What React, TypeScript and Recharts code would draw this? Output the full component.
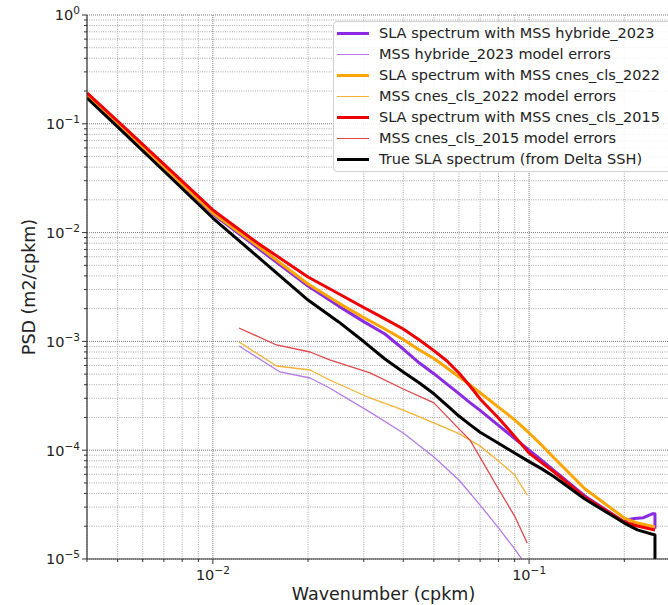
import React from "react";
import { LineChart, Line, XAxis, YAxis, CartesianGrid } from "recharts";

const FONT = "DejaVu Sans";

// wavenumber (cpkm) samples
const kSpectrum = [0.004, 0.005, 0.007, 0.01, 0.014, 0.02, 0.025, 0.03, 0.035, 0.04, 0.045, 0.05, 0.055, 0.06, 0.065, 0.07, 0.08, 0.09, 0.1, 0.11, 0.12, 0.15, 0.2, 0.22, 0.25];
const kHybride = [0.004, 0.005, 0.007, 0.01, 0.014, 0.02, 0.025, 0.03, 0.035, 0.04, 0.045, 0.05, 0.055, 0.06, 0.065, 0.07, 0.08, 0.09, 0.1, 0.11, 0.12, 0.15, 0.2, 0.205, 0.215, 0.23, 0.245, 0.25, 0.25];
const kTrue = [0.004, 0.005, 0.007, 0.01, 0.014, 0.02, 0.025, 0.03, 0.035, 0.04, 0.045, 0.05, 0.055, 0.06, 0.065, 0.07, 0.08, 0.09, 0.1, 0.11, 0.12, 0.15, 0.2, 0.22, 0.25, 0.25];
const kErr2015 = [0.0121, 0.0159, 0.0203, 0.0234, 0.0314, 0.04, 0.05, 0.06, 0.065, 0.07, 0.08, 0.09, 0.0986];
const kErr2022 = [0.0121, 0.0159, 0.0203, 0.0234, 0.0314, 0.04, 0.05, 0.06, 0.07, 0.08, 0.09, 0.0986];
const kErr2023 = [0.0121, 0.0163, 0.0203, 0.0234, 0.0314, 0.04, 0.05, 0.06, 0.07, 0.08, 0.09, 0.096];

// PSD (m2/cpkm)
const slaHybride2023 = [0.182, 0.1, 0.0393, 0.01483, 0.00706, 0.00323, 0.00211, 0.00152, 0.00117, 0.000851, 0.000632, 0.000505, 0.000405, 0.000331, 0.000274, 0.000232, 0.000169, 0.000128, 0.0001, 8.0e-5, 6.5e-5, 3.8e-5, 2.19e-5, 2.3e-5, 2.36e-5, 2.4e-5, 2.6e-5, 2.6e-5, 1.9e-5];
const errHybride2023 = [0.000908, 0.000524, 0.000461, 0.000373, 0.000224, 0.000144, 8.66e-5, 5.32e-5, 3.13e-5, 1.93e-5, 1.24e-5, 9.5e-6];
const slaCnes2022 = [0.184, 0.1016, 0.0401, 0.01514, 0.00738, 0.00337, 0.00225, 0.00166, 0.0013, 0.00104, 0.000834, 0.000697, 0.000569, 0.000474, 0.000399, 0.000337, 0.000249, 0.00019, 0.000144, 0.00011, 8.47e-5, 4.42e-5, 2.38e-5, 2.14e-5, 1.97e-5];
const errCnes2022 = [0.000987, 0.000594, 0.000546, 0.000442, 0.000302, 0.000234, 0.000178, 0.000142, 0.000109, 7.96e-5, 5.92e-5, 3.87e-5];
const slaCnes2015 = [0.192, 0.106, 0.0426, 0.01615, 0.00785, 0.00391, 0.00274, 0.00205, 0.00161, 0.0013, 0.00103, 0.000822, 0.000661, 0.000513, 0.000389, 0.000296, 0.000198, 0.000134, 9.4e-5, 7.6e-5, 6.3e-5, 3.7e-5, 2.19e-5, 2.01e-5, 1.85e-5];
const errCnes2015 = [0.001327, 0.000927, 0.000799, 0.000675, 0.000513, 0.000365, 0.000272, 0.000157, 0.000124, 8.59e-5, 4.4e-5, 2.48e-5, 1.4e-5];
const slaTrue = [0.1726, 0.0936, 0.0368, 0.01361, 0.00585, 0.0024, 0.00151, 0.000997, 0.000689, 0.000524, 0.000415, 0.00033, 0.000258, 0.000206, 0.000172, 0.000146, 0.000116, 9.42e-5, 7.85e-5, 6.7e-5, 5.7e-5, 3.56e-5, 2.14e-5, 1.85e-5, 1.66e-5, 1e-6];

const xMajor = [0.01, 0.1];
const xMinor = [0.004, 0.005, 0.006, 0.007, 0.008, 0.009, 0.02, 0.03, 0.04, 0.05, 0.06, 0.07, 0.08, 0.09, 0.2, 0.3];
const yMajor = [1e-5, 1e-4, 1e-3, 1e-2, 1e-1, 1];
const yMinor = [1e-5, 1e-4, 1e-3, 1e-2, 1e-1].flatMap((d) => [2, 3, 4, 5, 6, 7, 8, 9].map((m) => m * d));

const series = [
  { name: "SLA spectrum with MSS hybride_2023", k: kHybride, psd: slaHybride2023, color: "#8a2be2", width: 3 },
  { name: "MSS hybride_2023 model errors", k: kErr2023, psd: errHybride2023, color: "#b57ae8", width: 1.3 },
  { name: "SLA spectrum with MSS cnes_cls_2022", k: kSpectrum, psd: slaCnes2022, color: "#ffa500", width: 3 },
  { name: "MSS cnes_cls_2022 model errors", k: kErr2022, psd: errCnes2022, color: "#f5b335", width: 1.3 },
  { name: "SLA spectrum with MSS cnes_cls_2015", k: kSpectrum, psd: slaCnes2015, color: "#ee0000", width: 3 },
  { name: "MSS cnes_cls_2015 model errors", k: kErr2015, psd: errCnes2015, color: "#e0474c", width: 1.3 },
  { name: "True SLA spectrum (from Delta SSH)", k: kTrue, psd: slaTrue, color: "#000000", width: 3 },
];

const isMajor = (v: number) => Math.abs(Math.log10(v) - Math.round(Math.log10(v))) < 1e-6;
const expLabel = (v: number) => {
  const e = Math.round(Math.log10(v));
  return e < 0 ? "\u2212" + Math.abs(e) : String(e);
};

const XTick = ({ x, y, payload }: any) => {
  const major = isMajor(payload.value);
  return (
    <g>
      <line x1={x} x2={x} y1={y} y2={y + (major ? 5 : 3)} stroke="#333" strokeWidth={1} />
      {major && (
        <text x={x} y={y + 21} textAnchor="middle" fontFamily={FONT} fontSize={14.5} fill="#222">
          10
          <tspan dy={-6} fontSize={10.5}>{expLabel(payload.value)}</tspan>
        </text>
      )}
    </g>
  );
};

const YTick = ({ x, y, payload }: any) => {
  const major = isMajor(payload.value);
  return (
    <g>
      <line x1={x - (major ? 5 : 3)} x2={x} y1={y} y2={y} stroke="#333" strokeWidth={1} />
      {major && (
        <text x={x - 7} y={y + 5.3} textAnchor="end" fontFamily={FONT} fontSize={14.5} fill="#222">
          10
          <tspan dy={-6} fontSize={10.5}>{expLabel(payload.value)}</tspan>
        </text>
      )}
    </g>
  );
};

export default function App() {
  return (
    <div
      style={{
        position: "absolute",
        left: 0,
        top: 0,
        width: 668,
        height: 605,
        overflow: "hidden",
        background: "#fff",
        fontFamily: FONT,
      }}
    >
      <LineChart width={680} height={605} margin={{ top: 15, right: 0, bottom: 0, left: 0 }}>
        <CartesianGrid verticalValues={xMinor} horizontalValues={yMinor} stroke="#a6a6a6" strokeDasharray="1 1.3" />
        <CartesianGrid verticalValues={xMajor} horizontalValues={yMajor} stroke="#7a7a7a" strokeDasharray="1 1" />
        <XAxis
          dataKey="k"
          type="number"
          scale="log"
          domain={[0.004, 0.3]}
          allowDataOverflow
          ticks={[...xMajor, ...xMinor]}
          interval={0}
          tickSize={0}
          tickMargin={0}
          tick={(p: any) => <XTick {...p} />}
          axisLine={{ stroke: "#333", strokeWidth: 1.2 }}
          height={46}
          label={() => (
            <text x={383.5} y={600} textAnchor="middle" fontFamily={FONT} fontSize={17.5} fill="#222">
              Wavenumber (cpkm)
            </text>
          )}
        />
        <XAxis
          xAxisId="top"
          orientation="top"
          type="number"
          scale="log"
          domain={[0.004, 0.3]}
          allowDataOverflow
          height={0}
          tick={false}
          tickLine={false}
          axisLine={{ stroke: "#333", strokeWidth: 1.2 }}
        />
        <YAxis
          dataKey="psd"
          type="number"
          scale="log"
          domain={[1e-5, 1]}
          allowDataOverflow
          ticks={[...yMajor, ...yMinor]}
          interval={0}
          tickSize={0}
          tickMargin={0}
          tick={(p: any) => <YTick {...p} />}
          axisLine={{ stroke: "#333", strokeWidth: 1.2 }}
          width={87}
          label={() => (
            <text
              x={35}
              y={287}
              transform="rotate(-90 35 287)"
              textAnchor="middle"
              fontFamily={FONT}
              fontSize={17.5}
              fill="#222"
            >
              PSD (m2/cpkm)
            </text>
          )}
        />
        {series.map((s) => (
          <Line
            key={s.name}
            data={s.k.map((k, i) => ({ k, psd: s.psd[i] }))}
            dataKey="psd"
            name={s.name}
            stroke={s.color}
            strokeWidth={s.width}
            dot={false}
            activeDot={false}
            type="linear"
            strokeLinejoin="round"
            isAnimationActive={false}
          />
        ))}
      </LineChart>
      <div
        style={{
          position: "absolute",
          left: 333,
          top: 21,
          width: 345,
          height: 151,
          border: "1px solid #d0d0d0",
          borderRadius: 4,
          background: "rgba(255,255,255,0.85)",
          boxSizing: "border-box",
          paddingTop: 1,
        }}
      >
        {series.map((s) => (
          <div key={s.name} style={{ position: "relative", height: 21, lineHeight: "21px" }}>
            <div
              style={{
                position: "absolute",
                left: 3,
                top: 10.5 - s.width / 2,
                width: 32,
                height: s.width,
                background: s.color,
              }}
            />
            <span
              style={{
                position: "absolute",
                left: 45,
                top: 0,
                fontSize: 14.5,
                color: "#222",
                whiteSpace: "nowrap",
              }}
            >
              {s.name}
            </span>
          </div>
        ))}
      </div>
    </div>
  );
}
